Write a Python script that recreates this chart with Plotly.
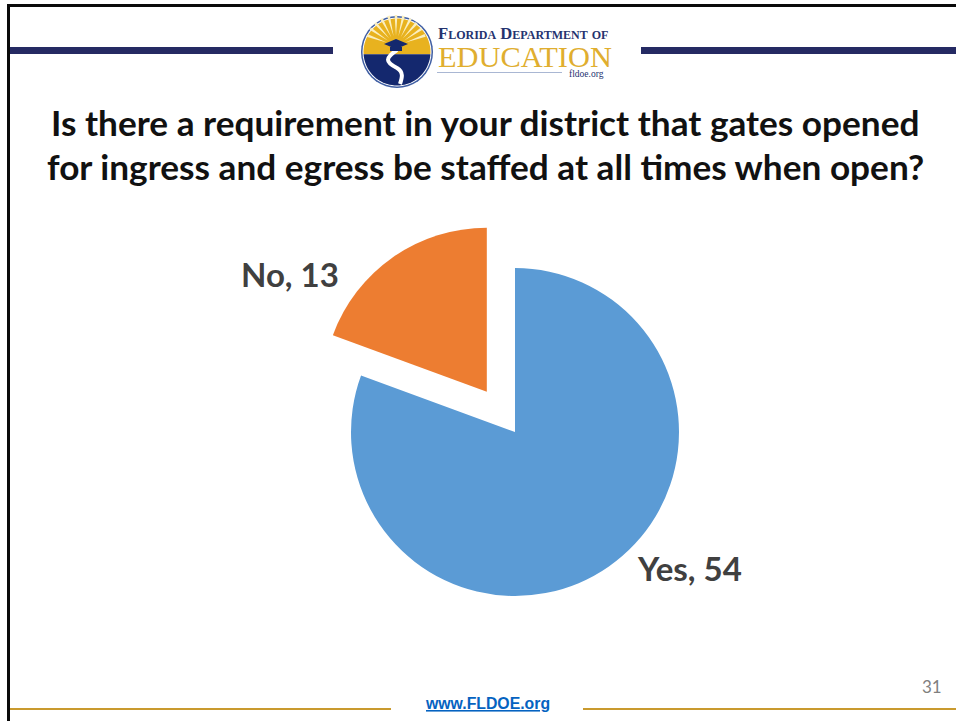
import math
import plotly.graph_objects as go

labels = ["Yes", "No"]
values = [54, 13]
colors = ["#5B9BD5", "#ED7D31"]
pulls = [0, 0.3]
title_lines = ["Is there a requirement in your district that gates opened",
               "for ingress and egress be staffed at all times when open?"]
W, H = 956, 721

def X(x): return x / W
def Y(y): return 1 - y / H

def rect(x0, y0, x1, y1, color):
    return dict(type="rect", xref="paper", yref="paper", x0=X(x0), x1=X(x1), y0=Y(y0), y1=Y(y1),
                fillcolor=color, line_width=0, layer="above")

def poly(pts, color):
    p = "M " + " L ".join(f"{X(a):.5f},{Y(b):.5f}" for a, b in pts) + " Z"
    return dict(type="path", xref="paper", yref="paper", path=p, fillcolor=color, line_width=0, layer="above")

def label_text(i):
    return f"{labels[i]}, {values[i]}"

cx, cy, r = 515, 432, 164
half = r * 1.3
fig = go.Figure(go.Pie(
    labels=labels, values=values, sort=False, direction="clockwise", rotation=0,
    pull=pulls, marker=dict(colors=colors, line=dict(width=0)),
    textinfo="none", hoverinfo="label+value", showlegend=False,
    domain=dict(x=[X(cx - half), X(cx + half)], y=[Y(cy + half), Y(cy - half)]),
))

shapes = [
    rect(7, 4, W, 7, "#0a0a0a"),
    rect(7, 4, 10, H, "#0a0a0a"),
    rect(10, 47, 333, 54, "#252A63"),
    rect(641, 47, W, 54, "#252A63"),
    rect(10, 708, 391, 710, "#C99A2E"),
    rect(583, 708, W, 710, "#C99A2E"),
]

# logo emblem
lx, ly, lr = 397, 52, 36
def arc(a0, a1, rad, n=40):
    return [(lx + rad * math.cos(math.radians(a0 + (a1 - a0) * i / n)),
             ly - rad * math.sin(math.radians(a0 + (a1 - a0) * i / n))) for i in range(n + 1)]
shapes.append(poly(arc(0, 360, lr), "#3F5EA3"))
shapes.append(poly(arc(0, 360, lr - 1.5), "#FFFFFF"))
shapes.append(poly(arc(-4, 184, lr - 2.5), "#E8B21F"))
shapes.append(poly(arc(184, 356, lr - 2.5), "#14286E"))
for a in range(20, 170, 14):
    ca, sa = math.cos(math.radians(a)), math.sin(math.radians(a))
    shapes.append(poly([(lx - 1 + 10 * ca, ly - 6 - 10 * sa),
                        (lx - 1 + 31 * ca - 1.4 * sa, ly - 6 - 31 * sa - 1.4 * ca),
                        (lx - 1 + 31 * ca + 1.4 * sa, ly - 6 - 31 * sa + 1.4 * ca)], "#FBEFC0"))
# road
shapes.append(dict(type="path", xref="paper", yref="paper",
    path=f"M {X(397)},{Y(50)} C {X(385)},{Y(58)} {X(385)},{Y(62)} {X(397)},{Y(68)} "
         f"C {X(404)},{Y(72)} {X(402)},{Y(78)} {X(400)},{Y(84)}",
    line=dict(color="#FFFFFF", width=4), layer="above"))
# graduation cap
shapes.append(poly([(384, 44), (396, 39), (408, 44), (396, 49)], "#14286E"))
shapes.append(rect(390, 47, 402, 51, "#14286E"))
# logo rule
shapes.append(rect(437, 72, 562, 73, "#A9B7D3"))

def ann(text, x, y, size, color, family, anchor="left", variant=None):
    font = dict(size=size, color=color, family=family)
    if variant:
        font["variant"] = variant
    return dict(text=text, x=X(x), y=Y(y), xref="paper", yref="paper", showarrow=False,
                xanchor=anchor, yanchor="middle", align=anchor, font=font)

T = "Lato"
S = "Liberation Serif"
annotations = [
    ann(f"<b>{title_lines[0]}</b>", 485, 122, 35.2, "#111111", T, "center"),
    ann(f"<b>{title_lines[1]}</b>", 485, 166, 35.2, "#111111", T, "center"),
    ann(f"<b>{label_text(1)}</b>", 290, 274, 33, "#404040", T, "center"),
    ann(f"<b>{label_text(0)}</b>", 689, 568, 33, "#404040", T, "center"),
    ann("31", 932, 686, 17, "#7f7f7f", T, "center"),
    ann("<b><u>www.FLDOE.org</u></b>", 487, 703, 15.8, "#0563C1", "Liberation Sans", "center"),
    ann("<b>Florida Department of</b>", 436, 33.5, 16.6, "#25336F", S, variant="small-caps"),
    ann("EDUCATION", 436, 57, 30.4, "#E0AE2F", S),
    ann("fldoe.org", 567, 74, 9.5, "#25336F", S),
]

fig.update_layout(
    width=W, height=H, autosize=False, margin=dict(l=0, r=0, t=0, b=0),
    paper_bgcolor="white", plot_bgcolor="white", shapes=shapes, annotations=annotations,
)
fig.write_html("out.html", config=dict(displayModeBar=False),
               post_script="document.body.style.margin='0';document.body.style.overflow='hidden';")
